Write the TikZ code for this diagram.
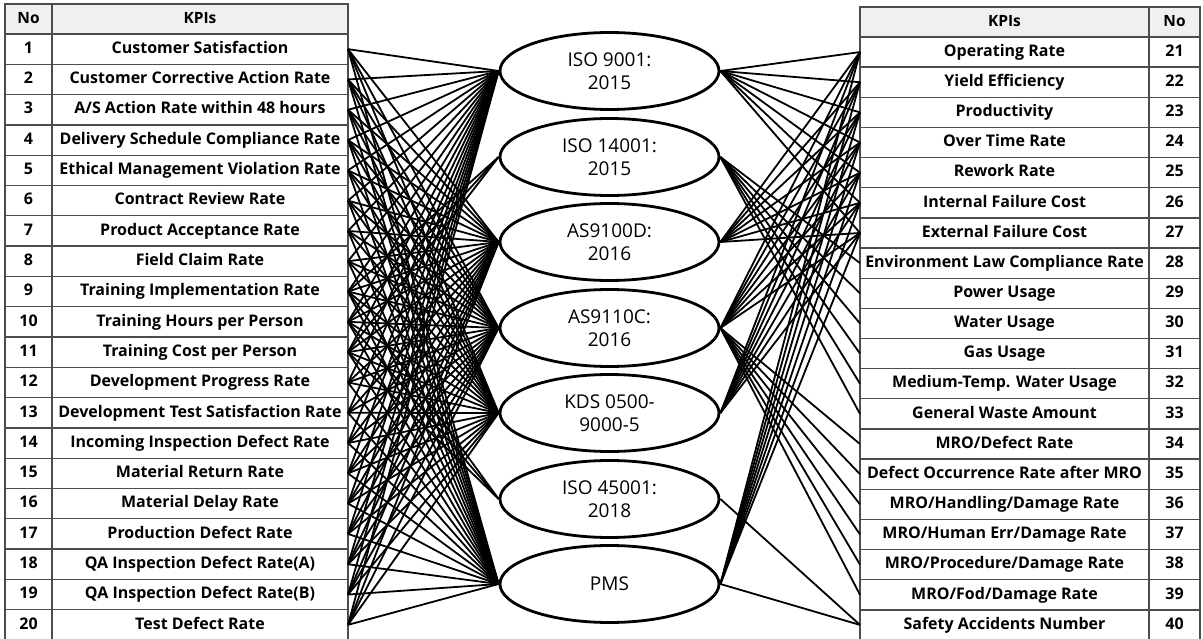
\documentclass[tikz,border=0pt]{standalone}
\usepackage{fontspec}
\setmainfont{Open Sans}
\usetikzlibrary{shapes.geometric}
\begin{document}
\begin{tikzpicture}[x=1pt,y=-1pt,
  kpi/.style={font=\bfseries\fontsize{16}{18}\selectfont, inner sep=0pt, text height=11.5pt, text depth=3pt},
  hdr/.style={font=\bfseries\fontsize{15.5}{17}\selectfont, inner sep=0pt, text height=11.5pt, text depth=3pt},
  stdbox/.style={ellipse, draw, line width=2.8pt, minimum width=219pt, minimum height=77pt, inner sep=0pt, align=center, font=\fontsize{19}{23}\selectfont, fill=white},
  conn/.style={line width=1.8pt, black},
  gridline/.style={draw=black!70, line width=1.3pt}]
\useasboundingbox (0,0) rectangle (1203,639);
\newcommand\kpiL[2]{%
  \node[kpi] (LT#1) at (200,{34+30.3*(#1-0.5)}) {#2};
  \node[kpi] (LN#1) at (28.5,{34+30.3*(#1-0.5)}) {#1};
  \coordinate (L#1) at (348,{34+30.3*(#1-0.5)});
}
\newcommand\kpiR[2]{%
  \node[kpi] (RT#1) at (1004.5,{37+30.15*(#1-20.5)}) {#2};
  \node[kpi] (RN#1) at (1174.5,{37+30.15*(#1-20.5)}) {#1};
  \coordinate (R#1) at (860,{37+30.15*(#1-20.5)});
}
% left table
\fill[black!6] (5,4) rectangle (348,34);
\foreach \k in {0,...,19} \draw[gridline] (5,{34+30.3*\k}) -- (348,{34+30.3*\k});
\draw[gridline] (5,4) rectangle (348,642);
\draw[gridline] (52,4) -- (52,642);
\node[hdr] (LHno) at (28.5,19) {No};
\node[hdr] (LHkpi) at (200,19) {KPIs};
% right table
\fill[black!6] (860,7) rectangle (1200,37);
\foreach \k in {0,...,19} \draw[gridline] (860,{37+30.15*\k}) -- (1200,{37+30.15*\k});
\draw[gridline] (860,7) rectangle (1200,642);
\draw[gridline] (1149,7) -- (1149,642);
\node[hdr] (RHkpi) at (1004.5,22) {KPIs};
\node[hdr] (RHno) at (1174.5,22) {No};
% rows
\kpiL{1}{Customer Satisfaction}
\kpiL{2}{Customer Corrective Action Rate}
\kpiL{3}{A/S Action Rate within 48 hours}
\kpiL{4}{Delivery Schedule Compliance Rate}
\kpiL{5}{Ethical Management Violation Rate}
\kpiL{6}{Contract Review Rate}
\kpiL{7}{Product Acceptance Rate}
\kpiL{8}{Field Claim Rate}
\kpiL{9}{Training Implementation Rate}
\kpiL{10}{Training Hours per Person}
\kpiL{11}{Training Cost per Person}
\kpiL{12}{Development Progress Rate}
\kpiL{13}{Development Test Satisfaction Rate}
\kpiL{14}{Incoming Inspection Defect Rate}
\kpiL{15}{Material Return Rate}
\kpiL{16}{Material Delay Rate}
\kpiL{17}{Production Defect Rate}
\kpiL{18}{QA Inspection Defect Rate(A)}
\kpiL{19}{QA Inspection Defect Rate(B)}
\kpiL{20}{Test Defect Rate}
\kpiR{21}{Operating Rate}
\kpiR{22}{Yield Efficiency}
\kpiR{23}{Productivity}
\kpiR{24}{Over Time Rate}
\kpiR{25}{Rework Rate}
\kpiR{26}{Internal Failure Cost}
\kpiR{27}{External Failure Cost}
\kpiR{28}{Environment Law Compliance Rate}
\kpiR{29}{Power Usage}
\kpiR{30}{Water Usage}
\kpiR{31}{Gas Usage}
\kpiR{32}{Medium-Temp. Water Usage}
\kpiR{33}{General Waste Amount}
\kpiR{34}{MRO/Defect Rate}
\kpiR{35}{Defect Occurrence Rate after MRO}
\kpiR{36}{MRO/Handling/Damage Rate}
\kpiR{37}{MRO/Human Err/Damage Rate}
\kpiR{38}{MRO/Procedure/Damage Rate}
\kpiR{39}{MRO/Fod/Damage Rate}
\kpiR{40}{Safety Accidents Number}
% standards
\node[stdbox] (E1) at (609.5,71) {ISO 9001:\\2015};
\node[stdbox] (E2) at (609.5,157) {ISO 14001:\\2015};
\node[stdbox] (E3) at (609.5,242) {AS9100D:\\2016};
\node[stdbox] (E4) at (609.5,328) {AS9110C:\\2016};
\node[stdbox] (E5) at (609.5,413) {KDS 0500-\\9000-5};
\node[stdbox] (E6) at (609.5,499) {ISO 45001:\\2018};
\node[stdbox] (E7) at (609.5,584) {PMS};
% connectors left
\foreach \i in {1,...,20} \foreach \e in {E1,E3,E4,E5,E7} \draw[conn] (L\i) -- (\e.west);
\foreach \i in {9,10,11} \foreach \e in {E2,E6} \draw[conn] (L\i) -- (\e.west);
% connectors right
\foreach \r in {21,...,27} \foreach \e in {E1,E3,E4,E5,E7} \draw[conn] (\e.east) -- (R\r);
\foreach \r in {28,...,33} \draw[conn] (E2.east) -- (R\r);
\foreach \r in {34,...,39} \draw[conn] (E4.east) -- (R\r);
\draw[conn] (E6.east) -- (R40);
\draw[conn] (E7.east) -- (R40);
\end{tikzpicture}
\end{document}
